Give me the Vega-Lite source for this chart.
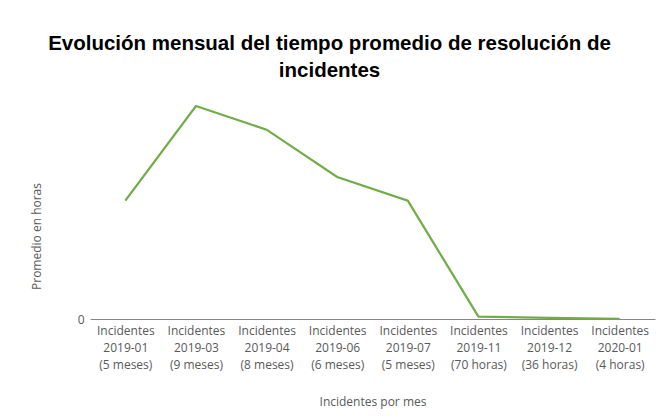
{
  "$schema": "https://vega.github.io/schema/vega-lite/v6.json",
  "width": 565,
  "height": 229,
  "autosize": {"type": "none"},
  "padding": {"left": 90, "top": 90, "right": 8, "bottom": 101},
  "background": "white",
  "title": {
    "text": ["Evolución mensual del tiempo promedio de resolución de", "incidentes"],
    "font": "Liberation Sans",
    "fontSize": 20.5,
    "fontWeight": "bold",
    "color": "#000000",
    "anchor": "middle",
    "dx": -43,
    "offset": 9,
    "lineHeight": 27
  },
  "data": {
    "values": [
      {"mes": "Incidentes|2019-01|(5 meses)", "horas": 3600},
      {"mes": "Incidentes|2019-03|(9 meses)", "horas": 6480},
      {"mes": "Incidentes|2019-04|(8 meses)", "horas": 5760},
      {"mes": "Incidentes|2019-06|(6 meses)", "horas": 4320},
      {"mes": "Incidentes|2019-07|(5 meses)", "horas": 3600},
      {"mes": "Incidentes|2019-11|(70 horas)", "horas": 70},
      {"mes": "Incidentes|2019-12|(36 horas)", "horas": 36},
      {"mes": "Incidentes|2020-01|(4 horas)", "horas": 4}
    ]
  },
  "mark": {"type": "line", "color": "#70ad47", "strokeWidth": 2.25},
  "encoding": {
    "x": {
      "field": "mes",
      "type": "nominal",
      "sort": null,
      "scale": {"type": "point", "padding": 0.5},
      "axis": {
        "title": "Incidentes por mes",
        "labelAngle": 0,
        "labelExpr": "split(datum.label, '|')",
        "labelFont": "Open Sans",
        "labelFontSize": 12,
        "labelColor": "#595959",
        "labelLineHeight": 17,
        "labelOverlap": false,
        "labelPadding": 6,
        "ticks": false,
        "grid": false,
        "domainColor": "#868686",
        "domainWidth": 1,
        "titleFont": "Open Sans",
        "titleFontSize": 12,
        "titleFontWeight": "normal",
        "titleColor": "#595959",
        "titlePadding": 26
      }
    },
    "y": {
      "field": "horas",
      "type": "quantitative",
      "scale": {"domain": [0, 6967], "nice": false},
      "axis": {
        "title": "Promedio en horas",
        "values": [0],
        "grid": false,
        "domain": false,
        "ticks": false,
        "labelFont": "Open Sans",
        "labelFontSize": 12,
        "labelColor": "#595959",
        "labelPadding": 6,
        "titleFont": "Open Sans",
        "titleFontSize": 12,
        "titleFontWeight": "normal",
        "titleColor": "#595959",
        "titleX": -47,
        "titleY": 146
      }
    }
  },
  "config": {"view": {"stroke": null}}
}
